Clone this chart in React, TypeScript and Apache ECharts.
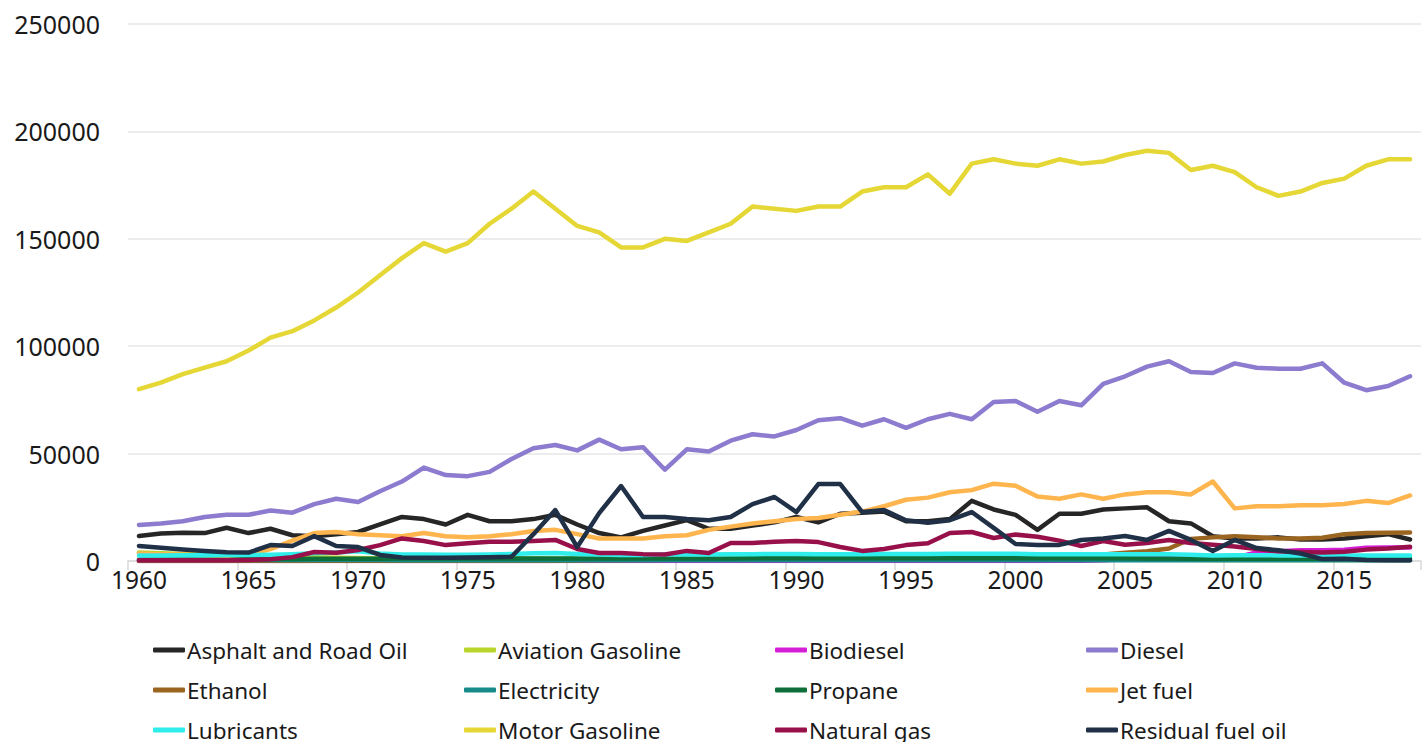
import React, { useEffect, useRef } from "react";
import * as echarts from "echarts";

const years = [
  "1960","1961","1962","1963","1964","1965","1966","1967","1968","1969",
  "1970","1971","1972","1973","1974","1975","1976","1977","1978","1979",
  "1980","1981","1982","1983","1984","1985","1986","1987","1988","1989",
  "1990","1991","1992","1993","1994","1995","1996","1997","1998","1999",
  "2000","2001","2002","2003","2004","2005","2006","2007","2008","2009",
  "2010","2011","2012","2013","2014","2015","2016","2017","2018",
];

const asphalt = [
  11600, 12800, 13200, 13000, 15500, 13000, 15000, 12000, 11500, 12500,
  13500, 17000, 20500, 19500, 17000, 21500, 18500, 18500, 19500, 21500,
  17000, 13000, 11000, 14000, 16500, 19000, 15000, 15000, 16500, 18000,
  20500, 18000, 22000, 22500, 23000, 18500, 18500, 19500, 28000, 24000,
  21500, 14500, 22000, 22000, 24000, 24500, 25000, 18500, 17500, 11500,
  10500, 10500, 11000, 10000, 10000, 10500, 11500, 12500, 10000,
];
const aviation = [
  3900, 3600, 3300, 3000, 2700, 2400, 2100, 1900, 1700, 1500,
  1400, 1300, 1300, 1300, 1200, 1200, 1200, 1200, 1200, 1100,
  1000, 1000, 1000, 900, 900, 900, 900, 900, 900, 900,
  800, 800, 800, 800, 800, 800, 800, 800, 800, 800,
  700, 700, 700, 600, 600, 600, 600, 600, 600, 500,
  500, 500, 500, 500, 500, 500, 500, 500, 500,
];
const biodiesel = [
  0, 0, 0, 0, 0, 0, 0, 0, 0, 0,
  0, 0, 0, 0, 0, 0, 0, 0, 0, 0,
  0, 0, 0, 0, 0, 0, 0, 0, 0, 0,
  0, 0, 0, 0, 0, 0, 0, 0, 0, 0,
  0, 50, 100, 150, 300, 800, 1500, 2000, 2000, 1800,
  1500, 4000, 4500, 5000, 5000, 5200, 6200, 6300, 6300,
];
const diesel = [
  16800, 17500, 18500, 20500, 21500, 21500, 23500, 22500, 26500, 29000,
  27500, 32500, 37000, 43500, 40000, 39500, 41500, 47500, 52500, 54000,
  51500, 56500, 52000, 53000, 42500, 52000, 51000, 56000, 59000, 58000,
  61000, 65500, 66500, 63000, 66000, 62000, 66000, 68500, 66000, 74000,
  74500, 69500, 74500, 72500, 82500, 86000, 90500, 93000, 88000, 87500,
  92000, 90000, 89500, 89500, 92000, 83000, 79500, 81500, 86000,
];
const ethanol = [
  0, 0, 0, 0, 0, 0, 0, 0, 0, 0,
  0, 0, 0, 0, 0, 0, 0, 0, 0, 0,
  200, 300, 400, 500, 600, 700, 800, 800, 800, 800,
  800, 800, 900, 1000, 1000, 1000, 900, 1000, 1100, 1100,
  1200, 1300, 1600, 2200, 3000, 3800, 4500, 5800, 10300, 11000,
  11500, 11000, 10500, 10500, 10800, 12500, 13000, 13200, 13300,
];
const electricity = [
  500, 500, 500, 500, 500, 500, 500, 500, 500, 500,
  500, 450, 400, 400, 400, 400, 400, 400, 400, 400,
  350, 350, 350, 350, 350, 350, 350, 350, 350, 350,
  350, 350, 350, 350, 350, 350, 350, 350, 350, 350,
  350, 350, 350, 350, 350, 350, 350, 350, 350, 350,
  350, 350, 350, 350, 350, 350, 350, 350, 350,
];
const propane = [
  600, 650, 700, 750, 800, 850, 900, 950, 1000, 1050,
  1100, 1100, 1150, 1150, 1200, 1200, 1200, 1200, 1200, 1200,
  1200, 1200, 1200, 1200, 1200, 1200, 1200, 1200, 1300, 1300,
  1300, 1300, 1300, 1300, 1300, 1300, 1300, 1300, 1300, 1300,
  1300, 1300, 1300, 1300, 1300, 1300, 1200, 1200, 1100, 1100,
  1000, 1000, 1000, 1000, 1000, 1000, 1000, 1000, 1000,
];
const jetFuel = [
  3500, 3200, 3000, 2800, 2600, 3000, 5500, 9500, 13000, 13500,
  12500, 12000, 11500, 13000, 11500, 11000, 11500, 12500, 14000, 14500,
  12500, 10500, 10500, 10500, 11500, 12000, 14500, 16000, 17500, 18500,
  19500, 20000, 21500, 23000, 25500, 28500, 29500, 32000, 33000, 36000,
  35000, 30000, 29000, 31000, 29000, 31000, 32000, 32000, 31000, 37000,
  24500, 25500, 25500, 26000, 26000, 26500, 28000, 27000, 30500,
];
const lubricants = [
  2600, 2600, 2700, 2700, 2800, 2800, 2900, 3200, 3600, 4000,
  4500, 3500, 3000, 3000, 2900, 2900, 3000, 3300, 3600, 3700,
  3300, 3000, 2800, 2800, 3000, 3000, 3000, 3100, 3200, 3300,
  3300, 3200, 3200, 3200, 3300, 3300, 3300, 3400, 3400, 3400,
  3400, 3200, 3200, 3100, 3200, 3200, 3100, 3100, 2900, 2600,
  2700, 2700, 2600, 2600, 2600, 2600, 2600, 2600, 2600,
];
const motorGasoline = [
  80000, 83000, 87000, 90000, 93000, 98000, 104000, 107000, 112000, 118000,
  125000, 133000, 141000, 148000, 144000, 148000, 157000, 164000, 172000, 164000,
  156000, 153000, 146000, 146000, 150000, 149000, 153000, 157000, 165000, 164000,
  163000, 165000, 165000, 172000, 174000, 174000, 180000, 171000, 185000, 187000,
  185000, 184000, 187000, 185000, 186000, 189000, 191000, 190000, 182000, 184000,
  181000, 174000, 170000, 172000, 176000, 178000, 184000, 187000, 187000,
];
const naturalGas = [
  300, 300, 300, 400, 400, 500, 800, 1800, 4200, 3800,
  5100, 7400, 10500, 9300, 7400, 8300, 9000, 9000, 9300, 9800,
  5600, 3700, 3700, 3200, 3000, 4700, 3700, 8400, 8400, 9000,
  9300, 8800, 6500, 4700, 5600, 7400, 8300, 13000, 13500, 10700,
  12300, 11300, 9500, 7000, 9300, 7600, 8400, 9800, 8400, 7600,
  6800, 5600, 4500, 4200, 3900, 4300, 5300, 5800, 6600,
];
const residualFuelOil = [
  7000, 6200, 5300, 4600, 4100, 3900, 7400, 7000, 11600, 7000,
  6500, 2800, 1600, 1500, 1500, 1600, 1800, 2000, 12500, 23700,
  6500, 22300, 34900, 20500, 20500, 19500, 19000, 20500, 26500, 29800,
  22800, 35800, 35800, 22800, 23700, 19000, 17800, 19000, 22800, 15400,
  7900, 7400, 7500, 9800, 10500, 11600, 9800, 14000, 9800, 4600,
  9800, 6000, 5000, 3500, 900, 1000, 500, 300, 300,
];

const seriesNames = [
  "Asphalt and Road Oil", "Aviation Gasoline", "Biodiesel", "Diesel",
  "Ethanol", "Electricity", "Propane", "Jet fuel",
  "Lubricants", "Motor Gasoline", "Natural gas", "Residual fuel oil",
];
const seriesData = [
  asphalt, aviation, biodiesel, diesel,
  ethanol, electricity, propane, jetFuel,
  lubricants, motorGasoline, naturalGas, residualFuelOil,
];
const seriesColors = [
  "#262626", "#B9D52B", "#D41FD6", "#8C7BCE",
  "#9A6421", "#178A8A", "#0D6E3A", "#FEB54D",
  "#2FEDEA", "#E5D735", "#98104A", "#1F3047",
];

const FONT = "'Noto Sans', 'Open Sans', sans-serif";

export default function App() {
  const ref = useRef<HTMLDivElement>(null);
  useEffect(() => {
    if (!ref.current) return;
    document.body.style.margin = "0";
    const chart = echarts.init(ref.current, undefined, { renderer: "svg" });
    const legends = seriesNames.map((name, i) => {
      const col = i % 4;
      const row = Math.floor(i / 4);
      return {
        orient: "horizontal" as const,
        left: 153 + col * 311,
        top: 650 + row * 40 - 13,
        padding: 0,
        itemGap: 0,
        itemWidth: 32,
        itemHeight: 5,
        icon: "roundRect",
        data: [name],
        textStyle: {
          fontFamily: FONT,
          fontSize: 22.5,
          color: "#1a1a1a",
          lineHeight: 26,
          padding: [0, 0, 0, -3],
        },
      };
    });
    chart.setOption({
      animation: false,
      backgroundColor: "#ffffff",
      grid: { left: 128, right: 7, top: 24, bottom: 181, containLabel: false },
      legend: legends,
      xAxis: {
        type: "category",
        data: years,
        boundaryGap: true,
        axisLine: { show: true, lineStyle: { color: "#d9d9d9", width: 1.5 } },
        axisTick: { show: true, interval: 4, length: 9, lineStyle: { color: "#d9d9d9", width: 1.5 } },
        axisLabel: {
          interval: 4,
          fontFamily: FONT,
          fontSize: 24.5,
          color: "#1a1a1a",
          margin: 6,
        },
      },
      yAxis: {
        type: "value",
        min: 0,
        max: 250000,
        interval: 50000,
        axisLine: { show: false },
        axisTick: { show: false },
        splitLine: { lineStyle: { color: "#e6e6e6", width: 1.5 } },
        axisLabel: {
          fontFamily: FONT,
          fontSize: 25,
          color: "#1a1a1a",
          margin: 28,
          formatter: (v: number) => String(v),
        },
      },
      series: seriesNames.map((name, i) => ({
        name,
        type: "line",
        data: seriesData[i],
        symbol: "none",
        showSymbol: false,
        smooth: false,
        color: seriesColors[i],
        lineStyle: { width: 4.5, color: seriesColors[i], cap: "round", join: "round" },
        z: 2 + i,
      })),
    });
    return () => chart.dispose();
  }, []);
  return (
    <div
      ref={ref}
      style={{ position: "absolute", left: 0, top: 0, width: 1428, height: 742 }}
    />
  );
}
